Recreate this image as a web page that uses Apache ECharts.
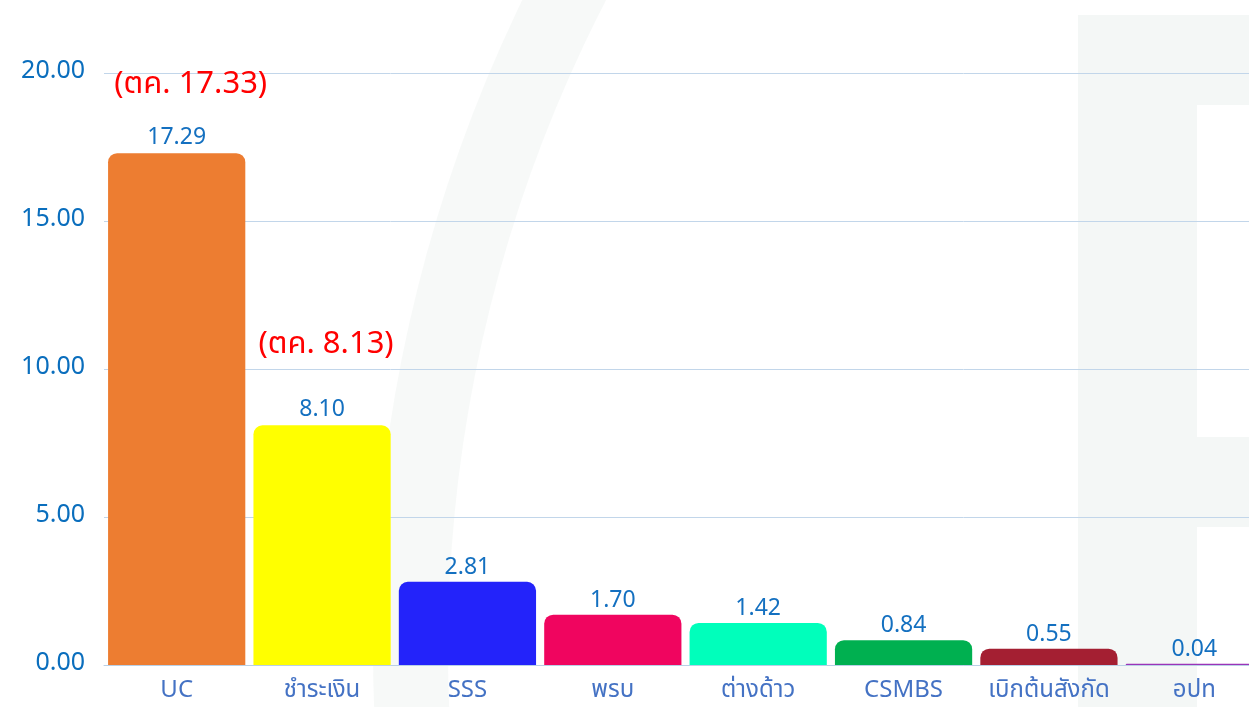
<!DOCTYPE html>
<html>
<head>
<meta charset="utf-8">
<script src="https://cdn.jsdelivr.net/npm/echarts@6/dist/echarts.min.js"></script>
<style>
html,body{margin:0;padding:0;background:#fff;}
#chart{width:1249px;height:707px;}
</style>
</head>
<body>
<div id="chart"></div>
<script>
const categories = ['UC', 'ชำระเงิน', 'SSS', 'พรบ', 'ต่างด้าว', 'CSMBS', 'เบิกต้นสังกัด', 'อปท'];
const values = [17.29, 8.10, 2.81, 1.70, 1.42, 0.84, 0.55, 0.04];
const octNotes = ['(ตค. 17.33)', '(ตค. 8.13)', '', '', '', '', '', ''];
const colors = ['#ED7D31', '#FFFF00', '#2323FA', '#F0055F', '#00FFBB', '#00B050', '#A41F32', '#9B34B8'];
const yTicks = [0, 5, 10, 15, 20];

const FONT = '"Noto Sans Thai", "Noto Sans", "DejaVu Sans", sans-serif';
const noteGap = [78, 104, 0, 0, 0, 0, 0, 0];
const notePad = [28, 8, 0, 0, 0, 0, 0, 0];

const chart = echarts.init(document.getElementById('chart'));
const data = values.map((v, i) => {
  const item = { value: v, itemStyle: { color: colors[i] } };
  if (octNotes[i]) {
    item.label = {
      formatter: p => '{r|' + octNotes[p.dataIndex] + '}\n{v|' + p.value.toFixed(2) + '}',
      rich: {
        r: { color: '#FF0000', fontSize: 31, fontFamily: FONT, lineHeight: noteGap[i], padding: [0, 0, 0, notePad[i]] },
        v: { color: '#1470C0', fontSize: 23, fontFamily: FONT, lineHeight: 26 }
      }
    };
  }
  return item;
});

chart.setOption({
  backgroundColor: '#ffffff',
  animation: false,
  graphic: [
    { type: 'ring', z: -10, silent: true, shape: { cx: 1863, cy: 650, r: 1490, r0: 1415 }, style: { fill: 'rgba(243,246,245,0.65)' } },
    { type: 'rect', z: -10, silent: true, shape: { x: 1078, y: 15, width: 171, height: 692 }, style: { fill: '#F4F7F6' } },
    { type: 'rect', z: -9, silent: true, shape: { x: 1197, y: 105, width: 52, height: 332 }, style: { fill: '#FFFFFF' } },
    { type: 'rect', z: -9, silent: true, shape: { x: 1197, y: 527, width: 52, height: 180 }, style: { fill: '#FFFFFF' } }
  ],
  grid: { left: 104, width: 1163, top: 73, bottom: 42, containLabel: false, outerBoundsMode: 'none' },
  xAxis: {
    type: 'category',
    data: categories,
    axisLine: { show: true, lineStyle: { color: '#B9D0E6', width: 1 } },
    axisTick: { show: false },
    axisLabel: { color: '#4472C4', fontSize: 24, fontFamily: FONT, margin: 15, interval: 0 }
  },
  yAxis: {
    type: 'value',
    min: yTicks[0],
    max: yTicks[yTicks.length - 1],
    interval: 5,
    axisLine: { show: false },
    axisTick: { show: false },
    splitLine: { lineStyle: { color: '#C2D6EA', width: 1 } },
    axisLabel: {
      color: '#0A6EBD', fontSize: 25, fontFamily: FONT, margin: 19,
      formatter: v => v.toFixed(2)
    }
  },
  series: [{
    type: 'bar',
    data: data,
    barCategoryGap: '5.6%',
    itemStyle: { borderRadius: [9, 9, 0, 0] },
    label: {
      show: true,
      position: 'top',
      distance: 1,
      color: '#1470C0',
      fontSize: 23,
      fontFamily: FONT,
      formatter: p => p.value.toFixed(2)
    }
  }]
});
</script>
</body>
</html>
